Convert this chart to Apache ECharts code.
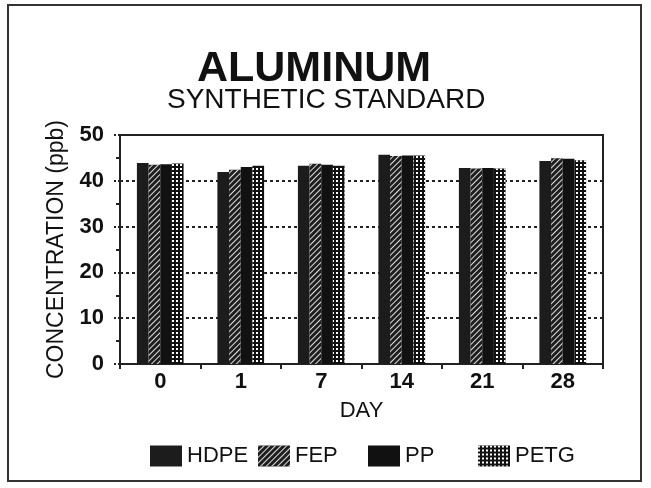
<!DOCTYPE html>
<html>
<head>
<meta charset="utf-8">
<script src="https://cdn.jsdelivr.net/npm/echarts@6/dist/echarts.min.js"></script>
<style>
  html, body { margin: 0; padding: 0; background: #fff; }
  #main { width: 651px; height: 488px; }
</style>
</head>
<body>
<div id="main"></div>
<script>
// days on the x axis
var days = ['0', '1', '7', '14', '21', '28'];
// concentration (ppb)
var hdpe = [43.9, 41.9, 43.3, 45.7, 42.8, 44.3];
var fep  = [43.5, 42.4, 43.7, 45.4, 42.7, 44.9];
var pp   = [43.6, 43.0, 43.5, 45.5, 42.8, 44.8];
var petg = [43.8, 43.3, 43.3, 45.5, 42.7, 44.5];
var yTicks = [0, 10, 20, 30, 40, 50];

var FONT = '"Liberation Sans", Arial, sans-serif';

var chart = echarts.init(document.getElementById('main'));

function legendAt(name, x) {
  return {
    data: [name],
    left: x,
    top: 440,
    itemWidth: 32,
    itemHeight: 21,
    icon: 'rect',
    textStyle: { fontFamily: FONT, fontSize: 22, color: '#111' }
  };
}

chart.setOption({
  backgroundColor: '#fff',
  animation: false,
  title: [
    {
      text: 'ALUMINUM',
      left: 192,
      top: 43,
      textStyle: { fontFamily: FONT, fontSize: 43, fontWeight: 'bold', color: '#111' }
    },
    {
      text: 'SYNTHETIC STANDARD',
      left: 162,
      top: 81,
      textStyle: { fontFamily: FONT, fontSize: 28, fontWeight: 'normal', color: '#111' }
    }
  ],
  legend: [
    legendAt('HDPE', 145),
    legendAt('FEP', 253),
    legendAt('PP', 363),
    legendAt('PETG', 473)
  ],
  graphic: [{
    type: 'rect',
    shape: { x: 8, y: 5, width: 633, height: 476 },
    style: { fill: 'none', stroke: '#333', lineWidth: 2 },
    silent: true
  }],
  grid: {
    left: 120, right: 48, top: 135, bottom: 124,
    show: true, borderColor: '#222', borderWidth: 2
  },
  xAxis: {
    type: 'category',
    data: days,
    name: 'DAY',
    nameLocation: 'middle',
    nameGap: 36,
    nameTextStyle: { fontFamily: FONT, fontSize: 22, color: '#111' },
    axisLine: { lineStyle: { color: '#222', width: 2 } },
    axisTick: { show: true, length: 5, lineStyle: { color: '#222', width: 2 } },
    axisLabel: { fontFamily: FONT, fontSize: 22, fontWeight: 'bold', color: '#111', margin: 7 }
  },
  yAxis: {
    type: 'value',
    min: yTicks[0],
    max: yTicks[yTicks.length - 1],
    interval: 10,
    name: 'CONCENTRATION (ppb)',
    nameLocation: 'middle',
    nameGap: 46,
    nameTextStyle: { fontFamily: FONT, fontSize: 23, color: '#111' },
    axisLine: { show: true, lineStyle: { color: '#222', width: 2 } },
    axisTick: { show: true, length: 7, lineStyle: { color: '#222', width: 2, type: [2, 2] } },
    minorTick: { show: true, splitNumber: 2, length: 4, lineStyle: { color: '#222', width: 2 } },
    splitLine: { show: true, lineStyle: { color: '#222', width: 2, type: [3, 3] } },
    axisLabel: { fontFamily: FONT, fontSize: 22, fontWeight: 'bold', color: '#111', margin: 16 }
  },
  series: [
    {
      name: 'HDPE', type: 'bar', data: hdpe,
      barGap: '0%', barCategoryGap: '42%',
      itemStyle: { color: '#1c1c1c' }
    },
    {
      name: 'FEP', type: 'bar', data: fep,
      itemStyle: {
        color: '#1e1e1e',
        decal: {
          symbol: 'rect', symbolSize: 1,
          dashArrayX: [1, 0], dashArrayY: [1, 3],
          rotation: -Math.PI / 4,
          color: '#e0e0e0'
        }
      }
    },
    {
      name: 'PP', type: 'bar', data: pp,
      itemStyle: { color: '#111' }
    },
    {
      name: 'PETG', type: 'bar', data: petg,
      itemStyle: {
        color: '#111',
        decal: {
          symbol: 'rect', symbolSize: 1,
          dashArrayX: [2, 2], dashArrayY: [2, 2],
          rotation: 0,
          color: '#fff'
        }
      }
    }
  ]
});
</script>
</body>
</html>
